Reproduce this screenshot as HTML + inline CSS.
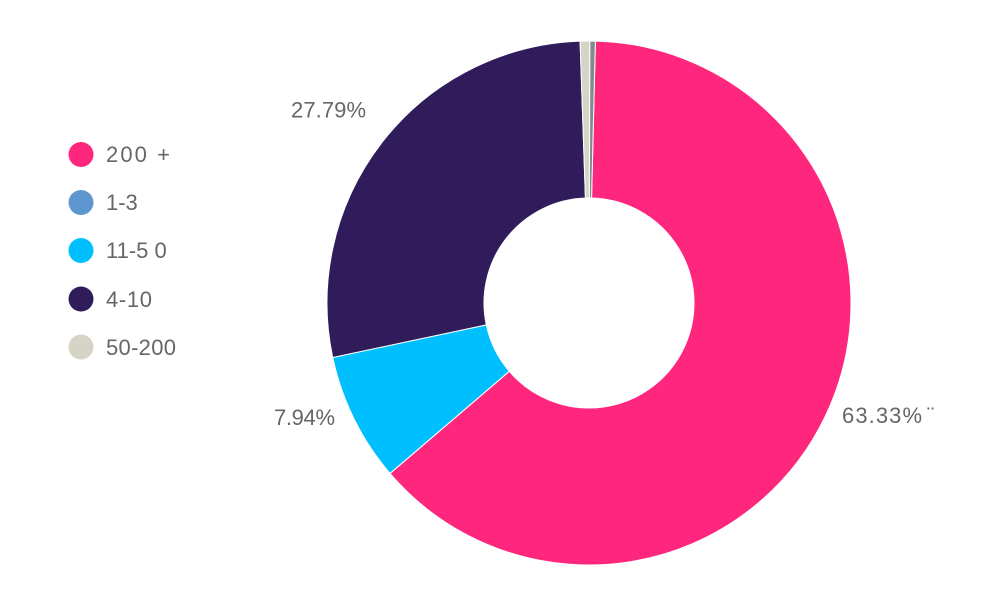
<!DOCTYPE html>
<html>
<head>
<meta charset="utf-8">
<style>
  html, body { margin:0; padding:0; background:#ffffff; }
  body { width:1003px; height:610px; overflow:hidden; }
  svg { display:block; }
  text { font-family: "Liberation Sans", "DejaVu Sans", sans-serif; fill:#666666; font-size:22px; }
</style>
</head>
<body>
<svg width="1003" height="610" viewBox="0 0 1003 610" xmlns="http://www.w3.org/2000/svg">
  <rect width="1003" height="610" fill="#ffffff"/>
  <!-- donut slices -->
  <g stroke="#ffffff" stroke-width="1" stroke-linejoin="round">
    <!-- 200 + : 63.33% -->
    <path d="M595.40,41.08 A262,262 0 1 1 390.02,473.44 L509.26,371.31 A105,105 0 1 0 591.57,198.03 Z" fill="#ff267e"/>
    <!-- 11-50 : 7.94% -->
    <path d="M390.02,473.44 A262,262 0 0 1 332.72,357.47 L486.29,324.83 A105,105 0 0 0 509.26,371.31 Z" fill="#00bfff"/>
    <!-- 4-10 : 27.79% -->
    <path d="M332.72,357.47 A262,262 0 0 1 580.08,41.15 L585.43,198.06 A105,105 0 0 0 486.29,324.83 Z" fill="#311c5b"/>
    <!-- 50-200 -->
    <path d="M580.08,41.15 A262,262 0 0 1 589.91,41.00 L589.37,198.00 A105,105 0 0 0 585.43,198.06 Z" fill="#d5d4c7"/>
    <!-- 1-3 sliver -->
    <path d="M589.91,41.00 A262,262 0 0 1 595.40,41.08 L591.57,198.03 A105,105 0 0 0 589.37,198.00 Z" fill="#7f8c8d"/>
  </g>

  <!-- slice labels -->
  <text x="291" y="117.5" textLength="75" lengthAdjust="spacing">27.79%</text>
  <text x="274" y="425" textLength="61" lengthAdjust="spacing">7.94%</text>
  <text x="842" y="423" textLength="80" lengthAdjust="spacing">63.33%</text>
  <text x="927" y="423" font-size="20">¨</text>

  <!-- legend -->
  <circle cx="81" cy="154.5" r="12.5" fill="#ff267e"/>
  <text x="106" y="162" textLength="64" lengthAdjust="spacing">200 +</text>

  <circle cx="81" cy="202.5" r="12.5" fill="#5e96d0"/>
  <text x="106" y="210">1-3</text>

  <circle cx="81" cy="250.5" r="12.5" fill="#00bfff"/>
  <text x="106" y="258">11-5 0</text>

  <circle cx="81" cy="299" r="12.5" fill="#311c5b"/>
  <text x="106" y="307" textLength="46" lengthAdjust="spacing">4-10</text>

  <circle cx="81" cy="347" r="12.5" fill="#d5d4c7"/>
  <text x="106" y="355" textLength="70" lengthAdjust="spacing">50-200</text>
</svg>
</body>
</html>
